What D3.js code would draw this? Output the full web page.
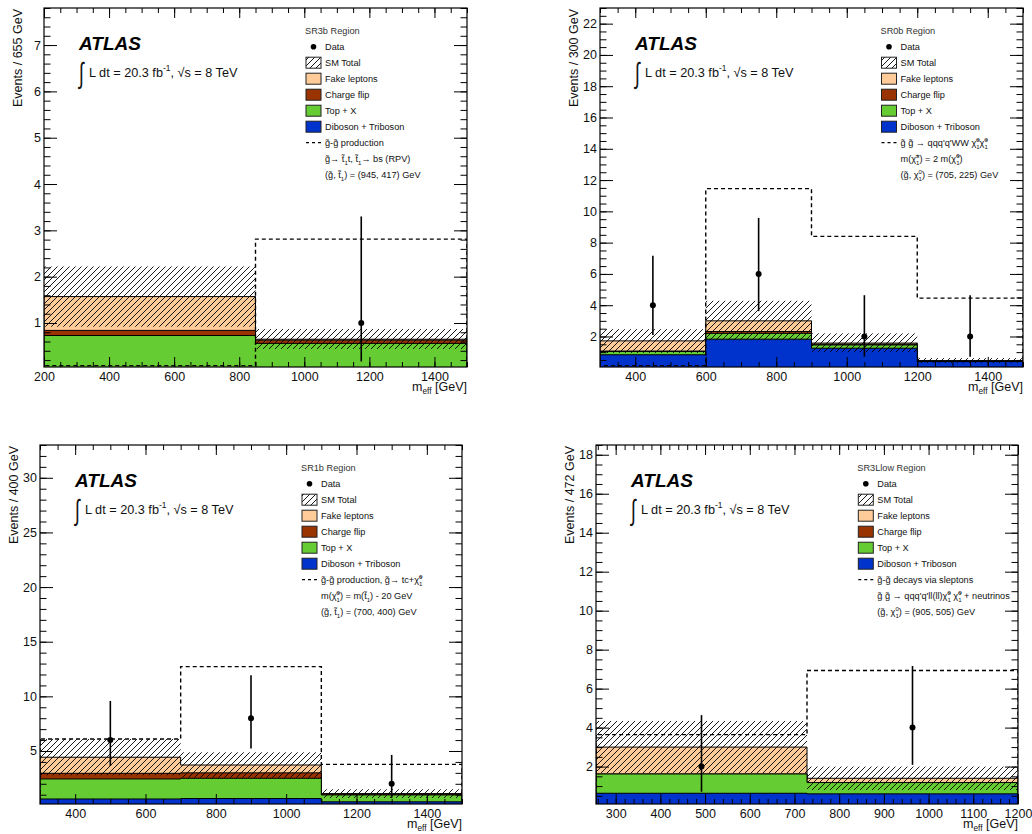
<!DOCTYPE html>
<html><head><meta charset="utf-8">
<script src="https://cdn.jsdelivr.net/npm/d3@7"></script>
<style>
body{margin:0;background:#fff;}
svg text{font-family:"Liberation Sans", Arial, Helvetica, sans-serif;}
</style></head><body>
<svg id="c" width="1032" height="834"></svg>
<script>
// ---------------- DATA ----------------
// SR3b
const sr3bEdges = [200, 850, 1500];
const sr3bXRange = [200, 1500];
const sr3bYRange = [0.05, 7.8];
const sr3bDiboson = [0.02, 0.01];
const sr3bTopX = [0.71, 0.55];
const sr3bChargeFlip = [0.11, 0.07];
const sr3bFake = [0.73, 0.02];
const sr3bBandLow = [0.92, 0.44];
const sr3bBandHigh = [2.22, 0.87];
const sr3bData = [null, 1];
const sr3bDataLow = [null, 0.17];
const sr3bDataHigh = [null, 3.30];
const sr3bSignal = [0.08, 2.81];
const sr3bXTicks = [200, 400, 600, 800, 1000, 1200, 1400];
const sr3bYTicks = [1, 2, 3, 4, 5, 6, 7];

// SR0b
const sr0bEdges = [300, 600, 900, 1200, 1500];
const sr0bXRange = [300, 1500];
const sr0bYRange = [0.05, 23];
const sr0bDiboson = [0.83, 1.83, 1.25, 0.40];
const sr0bTopX = [0.21, 0.37, 0.21, 0.03];
const sr0bChargeFlip = [0.03, 0.12, 0.05, 0.01];
const sr0bFake = [0.65, 0.68, 0.07, 0.01];
const sr0bBandLow = [0.95, 1.75, 1.00, 0.30];
const sr0bBandHigh = [2.47, 4.28, 2.20, 0.62];
const sr0bData = [4, 6, 2, 2];
const sr0bDataLow = [2.09, 3.62, 0.71, 0.71];
const sr0bDataHigh = [7.16, 9.58, 4.64, 4.64];
const sr0bSignal = [0.14, 11.45, 8.40, 4.45];
const sr0bXTicks = [400, 600, 800, 1000, 1200, 1400];
const sr0bYTicks = [2, 4, 6, 8, 10, 12, 14, 16, 18, 20, 22];

// SR1b
const sr1bEdges = [300, 700, 1100, 1500];
const sr1bXRange = [300, 1500];
const sr1bYRange = [0.15, 33];
const sr1bDiboson = [0.61, 0.65, 0.35];
const sr1bTopX = [1.83, 1.85, 0.63];
const sr1bChargeFlip = [0.52, 0.50, 0.07];
const sr1bFake = [1.47, 0.72, 0.05];
const sr1bBandLow = [2.78, 2.56, 0.70];
const sr1bBandHigh = [6.10, 4.88, 1.50];
const sr1bData = [6, 8, 2];
const sr1bDataLow = [3.62, 5.23, 0.71];
const sr1bDataHigh = [9.58, 11.94, 4.64];
const sr1bSignal = [6.10, 12.72, 3.78];
const sr1bXTicks = [400, 600, 800, 1000, 1200, 1400];
const sr1bYTicks = [5, 10, 15, 20, 25, 30];

// SR3Llow
const sr3lEdges = [256, 728, 1200];
const sr3lXRange = [256, 1200];
const sr3lYRange = [0.08, 18.5];
const sr3lDiboson = [0.63, 0.60];
const sr3lTopX = [0.99, 0.58];
const sr3lChargeFlip = [0.0, 0.0];
const sr3lFake = [1.38, 0.22];
const sr3lBandLow = [1.66, 0.80];
const sr3lBandHigh = [4.34, 2.00];
const sr3lData = [2, 4];
const sr3lDataLow = [0.71, 2.09];
const sr3lDataHigh = [4.64, 7.16];
const sr3lSignal = [3.64, 6.93];
const sr3lXTicks = [300, 400, 500, 600, 700, 800, 900, 1000, 1100, 1200];
const sr3lYTicks = [2, 4, 6, 8, 10, 12, 14, 16, 18];

const legendNames = ["Data", "SM Total", "Fake leptons", "Charge flip", "Top + X", "Diboson + Triboson"];

// ---------------- STYLE / LAYOUT ----------------
const COL = {fake: "#ffcc99", cf: "#993300", top: "#66cc33", dib: "#0033cc"};
const FONT = "Liberation Sans, Arial, Helvetica, sans-serif";

const panels = [
  {x0: 44, x1: 467, y0: 8, y1: 367, legX: 306, xr: sr3bXRange, yr: sr3bYRange, edges: sr3bEdges,
   dib: sr3bDiboson, top: sr3bTopX, cf: sr3bChargeFlip, fake: sr3bFake, bLo: sr3bBandLow, bHi: sr3bBandHigh,
   data: sr3bData, dLo: sr3bDataLow, dHi: sr3bDataHigh, sig: sr3bSignal, xt: sr3bXTicks, yt: sr3bYTicks,
   xMinor: 50, yMinor: 0.2, ytitle: "Events / 655 GeV", region: "SR3b Region",
   sigLines: [["g̃-g̃ production"],
              ["g̃→ t̃", {sub: "1"}, "t, t̃", {sub: "1"}, "→ bs (RPV)"],
              ["(g̃, t̃", {sub: "1"}, ") = (945, 417) GeV"]]},
  {x0: 600, x1: 1023, y0: 8, y1: 367, legX: 881.5, xr: sr0bXRange, yr: sr0bYRange, edges: sr0bEdges,
   dib: sr0bDiboson, top: sr0bTopX, cf: sr0bChargeFlip, fake: sr0bFake, bLo: sr0bBandLow, bHi: sr0bBandHigh,
   data: sr0bData, dLo: sr0bDataLow, dHi: sr0bDataHigh, sig: sr0bSignal, xt: sr0bXTicks, yt: sr0bYTicks,
   xMinor: 50, yMinor: 0.5, ytitle: "Events / 300 GeV", region: "SR0b Region",
   sigLines: [["g̃ g̃ → qqq'q'WW χ̃", {sup: "0", sub: "1"}, "χ̃", {sup: "0", sub: "1"}],
              ["m(χ̃", {sup: "±", sub: "1"}, ") = 2 m(χ̃", {sup: "0", sub: "1"}, ")"],
              ["(g̃, χ", {sup: "0", sub: "1"}, ") = (705, 225) GeV"]]},
  {x0: 40, x1: 462, y0: 445, y1: 804, legX: 302, xr: sr1bXRange, yr: sr1bYRange, edges: sr1bEdges,
   dib: sr1bDiboson, top: sr1bTopX, cf: sr1bChargeFlip, fake: sr1bFake, bLo: sr1bBandLow, bHi: sr1bBandHigh,
   data: sr1bData, dLo: sr1bDataLow, dHi: sr1bDataHigh, sig: sr1bSignal, xt: sr1bXTicks, yt: sr1bYTicks,
   xMinor: 50, yMinor: 1, ytitle: "Events / 400 GeV", region: "SR1b Region",
   sigLines: [["g̃-g̃ production, g̃→ tc+χ̃", {sup: "0", sub: "1"}],
              ["m(χ̃", {sup: "0", sub: "1"}, ") = m(t̃", {sub: "1"}, ") - 20 GeV"],
              ["(g̃, t̃", {sub: "1"}, ") = (700, 400) GeV"]]},
  {x0: 596, x1: 1018, y0: 445, y1: 804, legX: 858.3, xr: sr3lXRange, yr: sr3lYRange, edges: sr3lEdges,
   dib: sr3lDiboson, top: sr3lTopX, cf: sr3lChargeFlip, fake: sr3lFake, bLo: sr3lBandLow, bHi: sr3lBandHigh,
   data: sr3lData, dLo: sr3lDataLow, dHi: sr3lDataHigh, sig: sr3lSignal, xt: sr3lXTicks, yt: sr3lYTicks,
   xMinor: 20, yMinor: 0.5, ytitle: "Events / 472 GeV", region: "SR3Llow Region",
   sigLines: [["g̃-g̃ decays via sleptons"],
              ["g̃ g̃ → qqq'q'll(ll)χ̃", {sup: "0", sub: "1"}, " χ̃", {sup: "0", sub: "1"}, " + neutrinos"],
              ["(g̃, χ", {sup: "0", sub: "1"}, ") = (905, 505) GeV"]]}
];

// ---------------- HELPERS ----------------
const svg = d3.select("#c");
const defs = svg.append("defs");
const pat = defs.append("pattern").attr("id", "hatch").attr("patternUnits", "userSpaceOnUse")
  .attr("width", 6).attr("height", 6);
pat.append("path").attr("d", "M-1,1 L1,-1 M0,6 L6,0 M5,7 L7,5")
  .attr("stroke", "#000").attr("stroke-width", 0.9).attr("fill", "none");

function rich(g, x, y, parts, size, opts) {
  opts = opts || {};
  const t = g.append("text").attr("x", x).attr("y", y).attr("font-size", size)
    .attr("fill", opts.fill || "#111").attr("font-family", FONT);
  if (opts.anchor) t.attr("text-anchor", opts.anchor);
  let off = 0;
  const small = size * 0.66;
  const subShift = opts.subShift !== undefined ? opts.subShift : 0.3;
  parts.forEach(p => {
    if (typeof p === "string") {
      t.append("tspan").attr("dy", -off).text(p); off = 0;
    } else if (p.sup !== undefined && p.sub !== undefined) {
      const supDy = -0.42 * size;
      const s1 = t.append("tspan").attr("font-size", small).attr("dy", supDy - off).text(p.sup);
      off = supDy;
      const w1 = s1.node().getComputedTextLength();
      const subDy = 0.3 * size;
      const s2 = t.append("tspan").attr("font-size", small).attr("dx", -w1).attr("dy", subDy - off).text(p.sub);
      off = subDy;
      const w2 = s2.node().getComputedTextLength();
      if (w1 > w2) t.append("tspan").attr("dx", w1 - w2).text("");
    } else if (p.sup !== undefined) {
      const supDy = -0.45 * size;
      t.append("tspan").attr("font-size", small).attr("dy", supDy - off).text(p.sup);
      off = supDy;
    } else if (p.sub !== undefined) {
      const subDy = subShift * size;
      t.append("tspan").attr("font-size", small).attr("dy", subDy - off).text(p.sub);
      off = subDy;
    }
  });
  return t;
}

function minorVals(r, step) {
  const s = Math.ceil(r[0] / step - 1e-9) * step;
  return d3.range(s, r[1] + 1e-9, step).map(v => +v.toFixed(6));
}

function styleAxis(sel) {
  sel.select(".domain").remove();
  sel.attr("font-size", 12.5).attr("font-family", FONT);
  sel.selectAll(".tick line").attr("stroke", "#000").attr("stroke-width", 1);
  sel.selectAll(".tick text").attr("fill", "#111");
}

// ---------------- DRAW ----------------
panels.forEach((p, pi) => {
  const x = d3.scaleLinear().domain(p.xr).range([p.x0, p.x1]);
  const y = d3.scaleLinear().domain(p.yr).range([p.y1, p.y0]);
  const g = svg.append("g");
  const clipId = "clip" + pi;
  defs.append("clipPath").attr("id", clipId).append("rect")
    .attr("x", p.x0).attr("y", p.y0).attr("width", p.x1 - p.x0).attr("height", p.y1 - p.y0);
  const plot = g.append("g").attr("clip-path", `url(#${clipId})`);

  const comps = [p.dib, p.top, p.cf, p.fake];
  const cols = [COL.dib, COL.top, COL.cf, COL.fake];
  const cum = [];
  let run = p.dib.map(() => 0);
  comps.forEach(c => { run = run.map((v, i) => v + c[i]); cum.push(run); });

  const line = d3.line().x(d => x(d[0])).y(d => y(d[1]));
  const stepPts = vals => {
    const base = p.yr[0] - 1;
    const pts = [[p.edges[0], base]];
    vals.forEach((v, i) => { pts.push([p.edges[i], v]); pts.push([p.edges[i + 1], v]); });
    pts.push([p.edges[p.edges.length - 1], base]);
    return pts;
  };

  for (let k = 3; k >= 0; k--) {
    plot.append("path").attr("d", line(stepPts(cum[k])) + "Z")
      .attr("fill", cols[k]).attr("stroke", "#000").attr("stroke-width", 1);
  }

  // SM total uncertainty band
  plot.selectAll("rect.band").data(p.bLo).enter().append("rect")
    .attr("x", (d, i) => x(p.edges[i]))
    .attr("width", (d, i) => x(p.edges[i + 1]) - x(p.edges[i]))
    .attr("y", (d, i) => y(p.bHi[i]))
    .attr("height", (d, i) => y(p.bLo[i]) - y(p.bHi[i]))
    .attr("fill", "url(#hatch)");

  // signal
  plot.append("path").attr("d", line(stepPts(p.sig)))
    .attr("fill", "none").attr("stroke", "#000").attr("stroke-width", 1.4)
    .attr("stroke-dasharray", "4,3");

  // data
  p.data.forEach((v, i) => {
    if (v === null) return;
    const cx = x((p.edges[i] + p.edges[i + 1]) / 2);
    plot.append("line").attr("x1", cx).attr("x2", cx)
      .attr("y1", y(p.dLo[i])).attr("y2", y(p.dHi[i]))
      .attr("stroke", "#000").attr("stroke-width", 1.6);
    plot.append("circle").attr("cx", cx).attr("cy", y(v)).attr("r", 3).attr("fill", "#000");
  });

  // axes
  const fmt = d3.format("d");
  g.append("g").attr("transform", `translate(0,${p.y1})`)
    .call(d3.axisBottom(x).tickValues(minorVals(p.xr, p.xMinor)).tickSize(-5).tickFormat("")).call(styleAxis);
  g.append("g").attr("transform", `translate(0,${p.y1})`)
    .call(d3.axisBottom(x).tickValues(p.xt).tickSize(-10).tickPadding(5).tickFormat(fmt)).call(styleAxis);
  g.append("g").attr("transform", `translate(0,${p.y0})`)
    .call(d3.axisTop(x).tickValues(minorVals(p.xr, p.xMinor)).tickSize(-5).tickFormat("")).call(styleAxis);
  g.append("g").attr("transform", `translate(0,${p.y0})`)
    .call(d3.axisTop(x).tickValues(p.xt).tickSize(-10).tickFormat("")).call(styleAxis);
  g.append("g").attr("transform", `translate(${p.x0},0)`)
    .call(d3.axisLeft(y).tickValues(minorVals(p.yr, p.yMinor)).tickSize(-6.5).tickFormat("")).call(styleAxis);
  g.append("g").attr("transform", `translate(${p.x0},0)`)
    .call(d3.axisLeft(y).tickValues(p.yt).tickSize(-13).tickPadding(3).tickFormat(fmt)).call(styleAxis);
  g.append("g").attr("transform", `translate(${p.x1},0)`)
    .call(d3.axisRight(y).tickValues(minorVals(p.yr, p.yMinor)).tickSize(-6.5).tickFormat("")).call(styleAxis);
  g.append("g").attr("transform", `translate(${p.x1},0)`)
    .call(d3.axisRight(y).tickValues(p.yt).tickSize(-13).tickFormat("")).call(styleAxis);

  g.append("rect").attr("x", p.x0).attr("y", p.y0).attr("width", p.x1 - p.x0).attr("height", p.y1 - p.y0)
    .attr("fill", "none").attr("stroke", "#000").attr("stroke-width", 1.2);

  // axis titles
  g.append("text").attr("transform", `translate(${p.x0 - 22.5},${p.y0 + 1}) rotate(-90)`)
    .attr("text-anchor", "end").attr("font-size", 12.5).attr("font-family", FONT).attr("fill", "#111")
    .text(p.ytitle);
  rich(g, p.x1, p.y1 + 24, ["m", {sub: "eff"}, " [GeV]"], 12.5, {anchor: "end", subShift: 0.26});

  // ATLAS label
  g.append("text").attr("x", p.x0 + 35).attr("y", p.y0 + 42)
    .attr("font-size", 19).attr("font-weight", "bold").attr("font-style", "italic")
    .attr("font-family", FONT).attr("fill", "#000").text("ATLAS");
  g.append("text").attr("transform", `translate(${p.x0 + 35},${p.y0 + 75}) scale(0.9,1.45)`)
    .attr("font-size", 20).attr("font-family", FONT).attr("fill", "#111").text("∫");
  rich(g, p.x0 + 45, p.y0 + 69, ["L dt = 20.3 fb", {sup: "-1"}, ", √s = 8 TeV"], 12.7);

  // legend
  const lx = p.legX, ly = p.y0 + 22.7, st = 16;
  const lg = g.append("g");
  lg.append("text").attr("x", lx - 1).attr("y", ly + 3.3).attr("font-size", 9.2)
    .attr("font-family", FONT).attr("fill", "#333").text(p.region);
  const bw = 15, bh = 11;
  legendNames.forEach((name, k) => {
    const cy = ly + st * (k + 1);
    if (k === 0) {
      lg.append("circle").attr("cx", lx + bw / 2).attr("cy", cy).attr("r", 2.8).attr("fill", "#000");
    } else {
      const fills = [null, "url(#hatch)", COL.fake, COL.cf, COL.top, COL.dib];
      lg.append("rect").attr("x", lx).attr("y", cy - bh / 2).attr("width", bw).attr("height", bh)
        .attr("fill", fills[k]).attr("stroke", "#222").attr("stroke-width", 1);
    }
    lg.append("text").attr("x", lx + 19).attr("y", cy + 3.3).attr("font-size", 9.2)
      .attr("font-family", FONT).attr("fill", "#111").text(name);
  });
  const sy = ly + st * 7;
  lg.append("line").attr("x1", lx).attr("x2", lx + bw).attr("y1", sy).attr("y2", sy)
    .attr("stroke", "#000").attr("stroke-width", 1.3).attr("stroke-dasharray", "3,3");
  p.sigLines.forEach((parts, k) => {
    rich(lg, lx + 19, sy + st * k + 3.3, parts, 9.2);
  });
});
</script></body></html>
